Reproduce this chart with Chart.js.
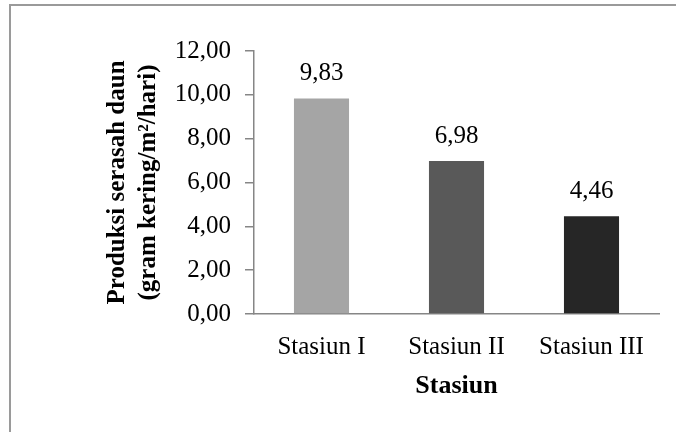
<!DOCTYPE html>
<html>
<head>
<meta charset="utf-8">
<script src="https://cdn.jsdelivr.net/npm/chart.js@4/dist/chart.umd.min.js"></script>
<style>
  html, body { margin: 0; padding: 0; background: #fff; overflow: hidden; }
  #wrap { position: relative; width: 676px; height: 432px; }
  #frame { position: absolute; left: 9px; top: 4px; width: 700px; height: 500px;
           border-top: 2px solid #9a9a9a; border-left: 2px solid #9a9a9a; pointer-events: none; }
</style>
</head>
<body>
<div id="wrap">
  <canvas id="chart" width="676" height="432"></canvas>
  <div id="frame"></div>
</div>
<script>
var stations = ['Stasiun I', 'Stasiun II', 'Stasiun III'];
var production = [9.83, 6.98, 4.46];
var barColors = ['#a5a5a5', '#595959', '#262626'];
var yTitle = ['Produksi serasah daun', '(gram kering/m\u00b2/hari)'];
var xTitle = 'Stasiun';

var serif = "'Liberation Serif', 'Times New Roman', serif";
var axisGrey = '#868686';

function comma(v) {
  return v.toFixed(2).replace('.', ',');
}

// value labels above each bar
var valueLabels = {
  id: 'valueLabels',
  afterDatasetsDraw: function (chart) {
    var ctx = chart.ctx;
    var meta = chart.getDatasetMeta(0);
    ctx.save();
    ctx.font = '25px ' + serif;
    ctx.fillStyle = '#000';
    ctx.textAlign = 'center';
    ctx.textBaseline = 'middle';
    meta.data.forEach(function (bar, i) {
      ctx.fillText(comma(production[i]), bar.x, bar.y - 25);
    });
    ctx.restore();
  }
};

new Chart(document.getElementById('chart'), {
  type: 'bar',
  data: {
    labels: stations,
    datasets: [{
      data: production,
      backgroundColor: barColors,
      borderWidth: 0,
      categoryPercentage: 1,
      barPercentage: 0.408
    }]
  },
  options: {
    responsive: false,
    animation: false,
    layout: { padding: { left: 102, top: 51, right: 17, bottom: 30 } },
    plugins: { legend: { display: false }, tooltip: { enabled: false } },
    scales: {
      x: {
        grid: { display: false, drawTicks: false },
        border: { display: true, color: axisGrey, width: 1.5 },
        ticks: { color: '#000', padding: 18, font: { family: serif, size: 25 } },
        title: {
          display: true, text: xTitle, color: '#000',
          padding: { top: 0, bottom: 0 },
          font: { family: serif, size: 26, weight: 'bold' }
        },
        afterFit: function (s) { s.height = 88; }
      },
      y: {
        min: 0, max: 12,
        grid: { drawOnChartArea: false, drawTicks: true, tickLength: 9, color: axisGrey, lineWidth: 1.5 },
        border: { display: true, color: axisGrey, width: 1.5 },
        ticks: {
          stepSize: 2, color: '#000', padding: 14,
          font: { family: serif, size: 25 },
          callback: function (v) { return comma(v); }
        },
        title: {
          display: true, text: yTitle, color: '#000',
          padding: { top: 0, bottom: 0 },
          font: { family: serif, size: 25, weight: 'bold', lineHeight: 1.25 }
        },
        afterFit: function (s) { s.width = 152; }
      }
    }
  },
  plugins: [valueLabels]
});
</script>
</body>
</html>
